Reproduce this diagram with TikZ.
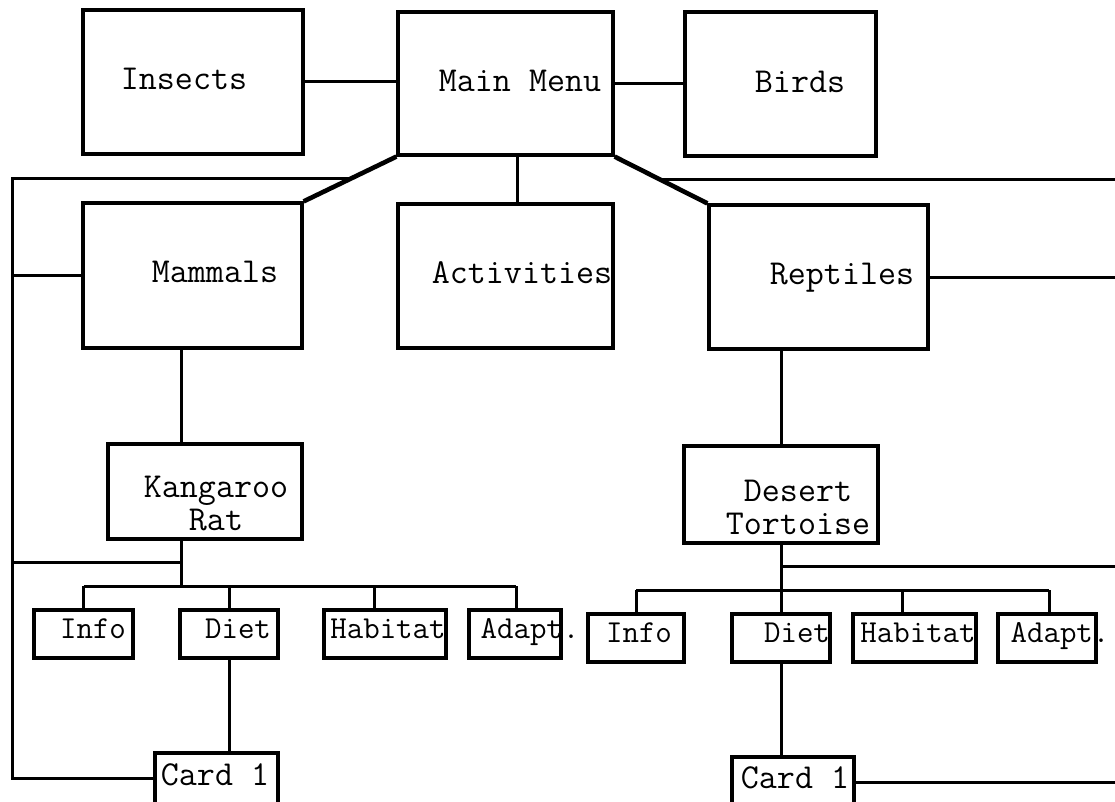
\documentclass[tikz,border=0pt]{standalone}
\usepackage{tikz}
\usetikzlibrary{positioning,calc,fit}

\tikzset{
    box/.style={draw, rectangle, line width=3.2pt, inner sep=0pt},
    link/.style={line width=3pt},
    fork/.style={line width=4.6pt},
    big/.style={font=\fontsize{35}{33}\selectfont\ttfamily, inner sep=0pt, anchor=base, align=center},
    small/.style={font=\fontsize{32}{33}\selectfont\ttfamily, inner sep=0pt, anchor=base},
}

\begin{document}
\begin{tikzpicture}[x=1pt, y=-1pt]
    \useasboundingbox (0,0) rectangle (1115,802);
    \clip (0,0) rectangle (1115,802);

    % Top row
    \node[box, fit={(83,10) (303,154)}] (insects) {};
    \node[box, fit={(398,12) (613,155)}] (menu) {};
    \node[box, fit={(685,12) (876,156)}] (birds) {};
    \node[big] (insects-t) at (184,90) {Insects};
    \node[big] (menu-t) at (520,92) {Main Menu};
    \node[big] (birds-t) at (800,93) {Birds};

    % Second row
    \node[box, fit={(83,203) (302,348)}] (mammals) {};
    \node[box, fit={(398,204) (613,348)}] (activities) {};
    \node[box, fit={(709,205) (928,349)}] (reptiles) {};
    \node[big] (mammals-t) at (215,282) {Mammals};
    \node[big] (activities-t) at (522,283) {Activities};
    \node[big] (reptiles-t) at (842,284) {Reptiles};

    % Animals (base sits on the last line)
    \node[box, fit={(108,444) (302,539)}] (krat) {};
    \node[box, fit={(684,446) (878,543)}] (tort) {};
    \node[big] (krat-t) at (216,530) {Kangaroo\\Rat};
    \node[big] (tort-t) at (798,534) {Desert\\Tortoise};

    % Info boxes
    \foreach \n/\xa/\xb/\lbl/\tx in {linfo/34/133/Info/93, ldiet/180/278/Diet/238,
            lhab/324/446/Habitat/388, ladapt/469/561/Adapt./530} {
        \node[box, fit={(\xa,610) (\xb,658)}] (\n) {};
        \node[small] (\n-t) at (\tx,638) {\lbl};
    }
    \foreach \n/\xa/\xb/\lbl/\tx in {rinfo/588/684/Info/639, rdiet/732/830/Diet/797,
            rhab/853/976/Habitat/918, radapt/998/1096/Adapt./1060} {
        \node[box, fit={(\xa,614) (\xb,662)}] (\n) {};
        \node[small] (\n-t) at (\tx,642) {\lbl};
    }

    % Cards
    \node[box, fit={(155,753) (278,804)}] (lcard) {};
    \node[box, fit={(732,757) (854,808)}] (rcard) {};
    \node[big] (lcard-t) at (215,785) {Card 1};
    \node[big] (rcard-t) at (795,788) {Card 1};

    % Links from the main menu
    \draw[link] (insects.east) -- (insects.east -| menu.west);
    \draw[link] (menu.east) -- (menu.east -| birds.west);
    \draw[fork] (menu.south west) -- (mammals.north east);
    \draw[fork] (menu.south east) -- (reptiles.north west);
    \draw[link] ([xshift=12pt]menu.south) -- ([xshift=12pt]menu.south |- activities.north);

    % Left side
    \coordinate (lx) at (12,0);
    \coordinate (kx) at (181,0);
    \coordinate (lbranch) at (0,562);
    \coordinate (lbus) at (0,586);
    \coordinate (lsplit) at ($(menu.south west)!0.5!(mammals.north east)$);
    \draw[link] (lsplit) -| (lcard.west -| lx) -- (lcard.west);
    \draw[link] (mammals.west -| lx) -- (mammals.west);
    \draw[link] (mammals.south -| kx) -- (krat.north -| kx);
    \draw[link] (krat.south -| kx) -- (kx |- lbus);
    \draw[link] (kx |- lbranch) -- (lx |- lbranch);
    \draw[link] (linfo.north |- lbus) -- ([xshift=1pt]ladapt.north |- lbus);
    \foreach \n/\dx in {linfo/0, ldiet/0, lhab/-11, ladapt/1}
        \draw[link] ([xshift=\dx pt]\n.north) -- ([xshift=\dx pt]\n.north |- lbus);
    \draw[link] (ldiet.south) -- (ldiet.south |- lcard.north);

    % Right side
    \coordinate (rx) at (1115,0);
    \coordinate (rbranch) at (0,566);
    \coordinate (rbus) at (0,590);
    \coordinate (rsplit) at ($(menu.south east)!0.5!(reptiles.north west)$);
    \draw[link] (rsplit) -- (rsplit -| rx);
    \draw[link] (reptiles.east) -- (reptiles.east -| rx);
    \draw[link] (reptiles.south -| tort.north) -- (tort.north);
    \draw[link] (tort.south) -- (tort.south |- rbus);
    \draw[link] (tort.south |- rbranch) -- (rbranch -| rx);
    \draw[link] (rinfo.north |- rbus) -- ([xshift=2pt]radapt.north |- rbus);
    \foreach \n/\dx in {rinfo/0, rdiet/0, rhab/-12, radapt/2}
        \draw[link] ([xshift=\dx pt]\n.north) -- ([xshift=\dx pt]\n.north |- rbus);
    \draw[link] (rdiet.south) -- (rdiet.south |- rcard.north);
    \draw[link] (rcard.east) -- (rcard.east -| rx);
\end{tikzpicture}
\end{document}
